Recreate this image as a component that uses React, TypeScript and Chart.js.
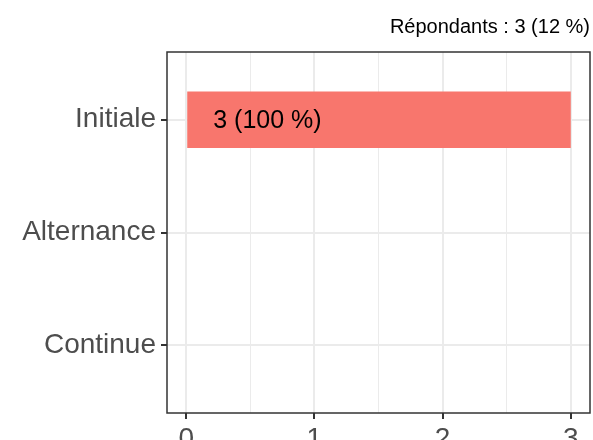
import React, { useEffect, useRef } from "react";
import { Chart, registerables } from "chart.js";

Chart.register(...registerables);

const categories = ["Initiale", "Alternance", "Continue"];
const counts = [3, 0, 0];
const percents = [100, 0, 0];
const xTicks = [0, 0.5, 1, 1.5, 2, 2.5, 3];
const subtitle = "Répondants : 3 (12 %)";

const FONT = "'Liberation Sans', Arial, Helvetica, sans-serif";

export default function App() {
  const ref = useRef<HTMLCanvasElement | null>(null);

  useEffect(() => {
    if (!ref.current) return;
    document.body.style.margin = "0";

    const overlay = {
      id: "overlay",
      afterDraw(chart: any) {
        const { ctx, chartArea } = chart;
        const xs = chart.scales.x;
        const ys = chart.scales.y;
        ctx.save();
        // panel border
        ctx.strokeStyle = "#333333";
        ctx.lineWidth = 1.5;
        ctx.strokeRect(
          chartArea.left,
          chartArea.top,
          chartArea.right - chartArea.left,
          chartArea.bottom - chartArea.top
        );
        // bar labels
        ctx.fillStyle = "#000000";
        ctx.font = `25px ${FONT}`;
        ctx.textAlign = "left";
        ctx.textBaseline = "middle";
        counts.forEach((v, i) => {
          if (v > 0) {
            const px = xs.getPixelForValue(0) + 27;
            const py = ys.getPixelForValue(i);
            ctx.fillText(`${v} (${percents[i]} %)`, px, py + 1);
          }
        });
        // subtitle
        ctx.font = `20px ${FONT}`;
        ctx.textAlign = "right";
        ctx.textBaseline = "alphabetic";
        ctx.fillStyle = "#000000";
        ctx.fillText(subtitle, 590, 33);
        ctx.restore();
      },
    };

    const chart = new Chart(ref.current, {
      type: "bar",
      data: {
        datasets: [
          {
            data: categories.map((c, i) => ({ x: counts[i], y: i })) as any,
            backgroundColor: "#F8766D",
            borderWidth: 0,
            barPercentage: 0.5,
            categoryPercentage: 1,
          },
        ],
      },
      options: {
        indexAxis: "y",
        animation: false,
        responsive: false,
        maintainAspectRatio: false,
        layout: { padding: { top: 52, right: 3, left: 0, bottom: 0 } },
        plugins: {
          legend: { display: false },
          tooltip: { enabled: false },
          title: { display: false },
        },
        scales: {
          x: {
            type: "linear",
            min: -0.15,
            max: 3.15,
            offset: false,
            afterBuildTicks: (axis: any) => {
              axis.ticks = xTicks.map((v) => ({ value: v }));
            },
            afterFit: (axis: any) => {
              axis.height = 27;
            },
            border: { display: false },
            grid: {
              offset: false,
              color: "#EBEBEB",
              lineWidth: (c: any) => (Number.isInteger(c.tick?.value) ? 2 : 1),
              drawTicks: true,
              tickLength: 6,
              tickColor: (c: any) =>
                Number.isInteger(c.tick?.value) ? "#333333" : "rgba(0,0,0,0)",
              tickWidth: 2,
            },
            ticks: {
              autoSkip: false,
              maxRotation: 0,
              padding: 3,
              color: "#4D4D4D",
              font: { family: FONT, size: 28 },
              callback: (v: any) => (Number.isInteger(v) ? String(v) : ""),
            },
          },
          y: {
            type: "linear",
            reverse: true,
            min: -0.6,
            max: 2.6,
            offset: false,
            afterBuildTicks: (axis: any) => {
              axis.ticks = categories.map((_, i) => ({ value: i }));
            },
            afterFit: (axis: any) => {
              axis.width = 167;
            },
            border: { display: false },
            grid: {
              offset: false,
              color: "#EBEBEB",
              lineWidth: 2,
              drawTicks: true,
              tickLength: 6,
              tickColor: "#333333",
              tickWidth: 2,
            },
            ticks: {
              autoSkip: false,
              padding: 5,
              color: "#4D4D4D",
              font: { family: FONT, size: 28 },
              callback: (v: any) => categories[v] ?? "",
            },
          },
        },
      },
      plugins: [overlay],
    });

    return () => chart.destroy();
  }, []);

  return (
    <div style={{ position: "absolute", left: 0, top: 0, width: 593, height: 440, background: "#fff" }}>
      <canvas ref={ref} width={593} height={440} style={{ width: 593, height: 440 }} />
    </div>
  );
}
